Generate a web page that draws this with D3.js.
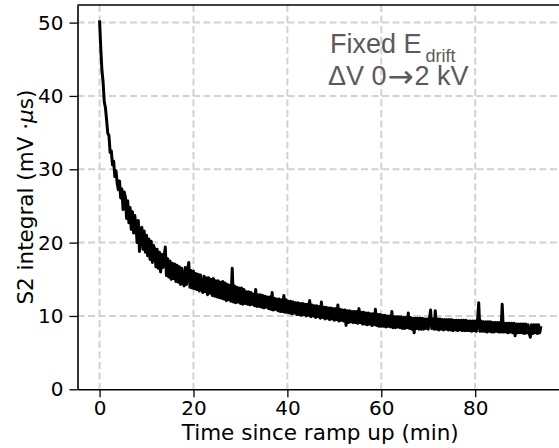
<!DOCTYPE html>
<html>
<head>
<meta charset="utf-8">
<script src="https://cdn.jsdelivr.net/npm/d3@7/dist/d3.min.js"></script>
<style>
body { margin: 0; background: #fff; }
svg { display: block; }
</style>
</head>
<body>
<script>
// S2 integral, one sample every 0.25 min from t = 0
// (one row per minute)
const sampleStep = 0.25;
const s2Values = [
    50.3, 46.6, 43.5, 41.9,
    39.2, 38.4, 36.7, 34.9,
    34.6, 32.3, 32.5, 30.6,
    31.1, 29.0, 29.8, 28.1,
    27.2, 28.4, 26.1, 27.3,
    24.5, 26.9, 26.2, 23.3,
    25.7, 22.7, 24.8, 21.8,
    24.2, 21.3, 23.7, 22.3,
    20.0, 23.0, 18.8, 21.8,
    22.1, 19.1, 21.6, 18.7,
    21.0, 18.2, 20.5, 17.7,   // 10
    20.2, 17.3, 19.6, 19.1,
    16.7, 19.1, 16.5, 18.7,
    16.0, 18.4, 16.6, 18.1,
    19.4, 15.5, 17.8, 15.3,
    17.5, 15.0, 17.2, 15.1,
    17.1, 14.7, 16.9, 14.6,
    16.7, 14.3, 16.5, 14.7,
    14.1, 16.6, 14.3, 16.3,
    17.3, 13.9, 16.2, 13.8,
    16.1, 13.7, 15.8, 13.6,   // 20
    15.7, 13.4, 15.6, 13.7,
    13.2, 15.4, 13.3, 15.2,
    12.9, 15.2, 13.1, 15.0,
    12.8, 15.1, 12.7, 14.8,
    12.6, 14.8, 12.5, 14.6,
    12.4, 14.7, 12.3, 14.5,
    12.1, 14.3, 12.2, 14.2,
    12.0, 16.5, 11.9, 14.1,
    11.8, 13.9, 11.9, 13.8,
    11.7, 13.8, 11.6, 13.6,   // 30
    11.7, 13.3, 11.6, 13.3,
    11.5, 13.2, 11.6, 13.0,
    11.4, 13.6, 11.3, 12.9,
    11.3, 12.9, 11.2, 12.8,
    11.1, 12.7, 11.2, 12.6,
    11.0, 12.6, 10.9, 13.2,
    10.8, 12.4, 10.9, 12.3,
    10.7, 12.3, 10.6, 12.2,
    10.6, 12.8, 10.5, 12.2,
    10.5, 12.0, 10.4, 12.0,   // 40
    10.3, 11.9, 10.4, 11.8,
    10.2, 11.8, 10.2, 11.7,
    10.1, 11.7, 10.2, 11.6,
    10.0, 11.6, 10.1, 12.1,
    9.9, 11.5, 10.0, 11.4,
    9.8, 11.4, 9.9, 11.3,
    9.7, 11.9, 9.8, 11.2,
    9.6, 11.2, 9.7, 11.1,
    9.5, 11.1, 9.6, 11.0,
    9.4, 11.0, 9.5, 11.5,     // 50
    9.3, 10.9, 9.4, 10.8,
    9.3, 10.8, 8.7, 10.7,
    9.1, 10.7, 9.2, 10.6,
    9.1, 10.6, 9.1, 10.6,
    9.0, 11.0, 9.1, 10.5,
    8.9, 10.5, 8.9, 10.4,
    8.8, 10.4, 8.9, 10.3,
    8.7, 10.3, 8.8, 10.9,
    8.7, 10.2, 8.6, 10.2,
    8.6, 10.1, 8.6, 10.1,     // 60
    8.5, 10.0, 8.6, 10.0,
    8.5, 10.6, 8.4, 9.9,
    8.4, 9.9, 8.5, 9.9,
    8.4, 9.9, 8.3, 9.8,
    8.3, 9.8, 8.4, 10.4,
    8.3, 9.8, 8.2, 9.7,
    7.7, 9.7, 8.3, 9.7,
    8.2, 9.7, 8.2, 9.7,
    8.2, 9.6, 8.3, 9.6,
    8.2, 9.6, 10.8, 8.3,      // 70
    9.6, 8.2, 10.7, 8.2,
    9.6, 8.1, 9.6, 8.2,
    9.5, 8.1, 9.5, 8.2,
    9.5, 8.1, 9.5, 8.1,
    9.5, 8.0, 9.4, 8.1,
    9.4, 8.0, 9.4, 8.1,
    9.4, 8.0, 9.4, 8.0,
    9.4, 8.0, 9.3, 8.0,
    9.3, 7.9, 9.3, 8.0,
    9.3, 7.9, 9.4, 11.8,      // 80
    7.9, 9.3, 7.9, 9.2,
    7.9, 9.2, 7.8, 9.2,
    7.9, 9.2, 7.8, 9.1,
    7.8, 9.1, 7.9, 9.1,
    7.8, 9.1, 7.8, 11.6,
    7.8, 9.0, 7.8, 9.0,
    7.7, 9.0, 7.8, 9.0,
    7.7, 9.0, 7.3, 8.9,
    7.7, 8.9, 7.7, 8.9,
    7.7, 8.9, 7.6, 8.9,       // 90
    7.7, 8.8, 7.6, 7.1,
    8.8, 7.6, 8.8, 7.7,
    8.8, 7.6, 8.8, 7.7,
    8.6
];

const xTicks = [0, 20, 40, 60, 80];
const yTicks = [0, 10, 20, 30, 40, 50];
const xLabel = "Time since ramp up (min)";
const noteMain = "Fixed E";
const noteSub = "drift";

// constants
const WIDTH = 559;
const HEIGHT = 448;
const LEFT = 77.5;
const TOP = 5;
const RIGHT = 563;      // axes run past the window edge
const BOTTOM = 389.3;
const FONT = "'DejaVu Sans', sans-serif";

var xScale = d3.scaleLinear()
    .domain([-4.7, 98.7])
    .range([LEFT, RIGHT]);

var yScale = d3.scaleLinear()
    .domain([0, 52.4])
    .range([BOTTOM, TOP]);

var svg = d3.select("body")
    .append("svg")
    .attr("width", WIDTH)
    .attr("height", HEIGHT);

svg.append("defs").append("clipPath")
    .attr("id", "plotArea")
    .append("rect")
    .attr("x", LEFT)
    .attr("y", TOP)
    .attr("width", RIGHT - LEFT)
    .attr("height", BOTTOM - TOP);

// dashed grid behind everything
var grid = svg.append("g")
    .attr("stroke", "#d2d2d2")
    .attr("stroke-width", 2)
    .attr("stroke-dasharray", "7,3.5");

grid.selectAll("line.vx")
    .data(xTicks)
    .enter()
    .append("line")
    .attr("class", "vx")
    .attr("x1", d => xScale(d))
    .attr("x2", d => xScale(d))
    .attr("y1", TOP)
    .attr("y2", BOTTOM);

grid.selectAll("line.hy")
    .data(yTicks.filter(d => d > 0))
    .enter()
    .append("line")
    .attr("class", "hy")
    .attr("x1", LEFT)
    .attr("x2", RIGHT)
    .attr("y1", d => yScale(d))
    .attr("y2", d => yScale(d));

// the measured curve
var line = d3.line()
    .x((d, i) => xScale(i * sampleStep))
    .y(d => yScale(d));

svg.append("path")
    .datum(s2Values)
    .attr("clip-path", "url(#plotArea)")
    .attr("fill", "none")
    .attr("stroke", "#000")
    .attr("stroke-width", 3)
    .attr("stroke-linejoin", "round")
    .attr("d", line);

// axes
var xAxis = svg.append("g")
    .attr("transform", `translate(0,${BOTTOM})`)
    .call(d3.axisBottom(xScale)
        .tickValues(xTicks)
        .tickSize(8)
        .tickSizeOuter(0)
        .tickPadding(4));

var yAxis = svg.append("g")
    .attr("transform", `translate(${LEFT},0)`)
    .call(d3.axisLeft(yScale)
        .tickValues(yTicks)
        .tickSize(8)
        .tickSizeOuter(0)
        .tickPadding(6));

[xAxis, yAxis].forEach(ax => {
    ax.select(".domain").attr("stroke", "#000").attr("stroke-width", 1.6);
    ax.selectAll(".tick line").attr("stroke", "#000").attr("stroke-width", 1.3);
    ax.selectAll(".tick text")
        .attr("fill", "#000")
        .attr("font-family", FONT)
        .attr("font-size", "20px");
});

// top spine
svg.append("line")
    .attr("x1", LEFT)
    .attr("x2", RIGHT)
    .attr("y1", TOP)
    .attr("y2", TOP)
    .attr("stroke", "#000")
    .attr("stroke-width", 1.6);

// axis labels
svg.append("text")
    .attr("x", (LEFT + RIGHT) / 2)
    .attr("y", 440)
    .attr("text-anchor", "middle")
    .attr("font-family", FONT)
    .attr("font-size", "21.5px")
    .text(xLabel);

var yLab = svg.append("text")
    .attr("transform", `translate(33,${(TOP + BOTTOM) / 2}) rotate(-90)`)
    .attr("text-anchor", "middle")
    .attr("font-family", FONT)
    .attr("font-size", "21.5px");
yLab.append("tspan").text("S2 integral (mV \u00b7");
yLab.append("tspan").attr("font-style", "italic").text("\u03bc");
yLab.append("tspan").text("s)");

// annotation in the corner
var note = svg.append("g")
    .attr("font-family", "'Liberation Sans', Arial, sans-serif")
    .attr("fill", "#5a5a5a");

var n1 = note.append("text")
    .attr("x", 330)
    .attr("y", 52.7)
    .attr("font-size", "27px");
n1.append("tspan").text(noteMain);
n1.append("tspan").attr("font-size", "18px").attr("dx", 4).attr("dy", 9).text(noteSub);

var n2 = note.append("text")
    .attr("x", 328)
    .attr("y", 85)
    .attr("font-size", "27px");
n2.append("tspan").text("\u0394V 0");
n2.append("tspan").attr("font-family", FONT).attr("font-size", "31px")
    .attr("dx", 1).attr("dy", 2).text("\u2192");
n2.append("tspan").attr("dx", 1).attr("dy", -2).text("2 kV");
</script>
</body>
</html>
